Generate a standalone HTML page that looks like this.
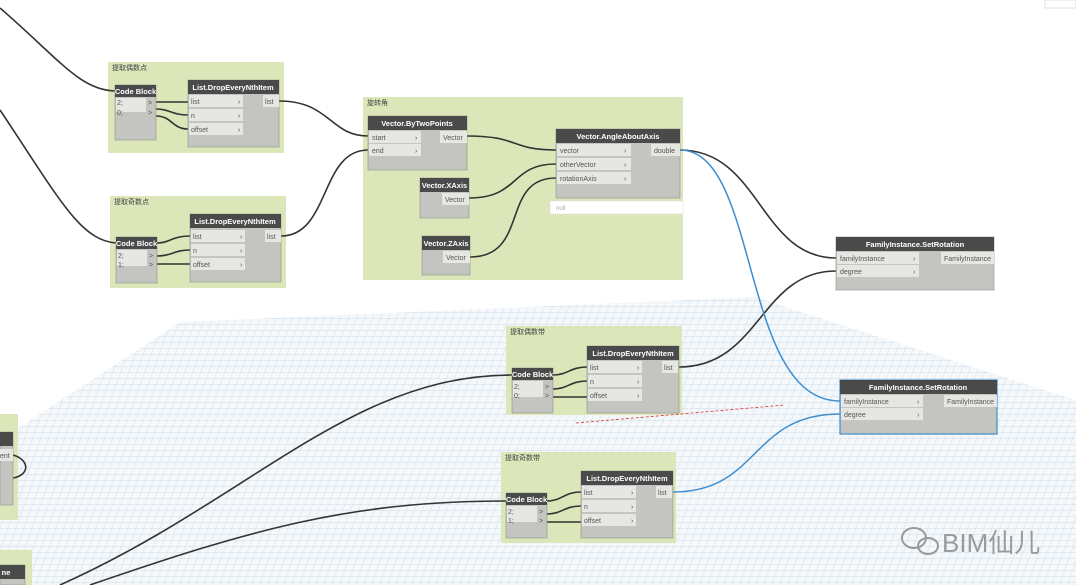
<!DOCTYPE html>
<html><head><meta charset="utf-8"><style>
html,body{margin:0;padding:0;background:#fff;}
svg{display:block;font-family:"Liberation Sans","Noto Sans CJK SC",sans-serif;}
.hd{fill:#4a4a4a}
.ht{fill:#fff;font-size:7.5px;font-weight:bold;text-anchor:middle}
.pt{fill:#555;font-size:7px}
.port{fill:#e6e6e3}
.body{fill:#c4c4c0;stroke:#8e8e8e;stroke-width:.6}
.grp{fill:#d9e6b5;opacity:.95}
.gt{fill:#444;font-size:7px}
.w{fill:none;stroke:#333;stroke-width:1.6}
.b{fill:none;stroke:#3c8ed0;stroke-width:1.5}
</style></head><body>
<svg width="1076" height="585" viewBox="0 0 1076 585" xmlns="http://www.w3.org/2000/svg">
<defs>
<pattern id="g" width="8" height="6" patternUnits="userSpaceOnUse" patternTransform="skewX(-20)">
<path d="M0 0H8M0 0V6" stroke="#bfd2e0" stroke-width=".7" fill="none"/>
</pattern>
<clipPath id="cp"><polygon points="0,440 180,322 755,297 1076,400 1076,585 0,585"/></clipPath>
</defs>
<polygon points="0,440 180,322 755,297 1076,400 1076,585 0,585" fill="#f5f8fb"/>
<rect x="0" y="290" width="1076" height="295" fill="url(#g)" clip-path="url(#cp)"/>
<rect x="1045" y="0" width="31" height="8" fill="#fff" stroke="#ccc" stroke-width=".6"/>

<rect class="grp" x="108" y="62" width="176" height="91"/><text class="gt" x="112" y="70">提取偶数点</text>
<rect class="grp" x="110" y="196" width="176" height="92"/><text class="gt" x="114" y="204">提取奇数点</text>
<rect class="grp" x="363" y="97" width="320" height="183"/><text class="gt" x="367" y="105">旋转角</text>
<rect class="grp" x="506" y="326" width="176" height="89"/><text class="gt" x="510" y="334">提取偶数带</text>
<rect class="grp" x="501" y="452" width="175" height="91"/><text class="gt" x="505" y="460">提取奇数带</text>
<rect class="grp" x="0" y="414" width="18" height="106"/>
<rect class="grp" x="0" y="550" width="32" height="35"/>

<path class="w" d="M0 8 C60 60 80 90 115 91"/>
<path class="w" d="M0 110 C60 200 80 240 116 243"/>
<path class="w" d="M156 102 H188 M156 109 C170 109 172 115 188 115 M156 116 C172 116 172 129 188 129"/>
<path class="w" d="M157 256 C172 256 174 250 190 250 M157 264 H190 M157 243 C170 243 172 236 190 236"/>
<path class="w" d="M279 101 C330 101 330 136 368 136"/>
<path class="w" d="M281 236 C330 236 320 150 368 150"/>
<path class="w" d="M467 136 C520 136 510 150 556 150"/>
<path class="w" d="M469 198 C520 198 510 164 556 164"/>
<path class="w" d="M470 257 C530 257 500 178 556 178"/>
<path class="w" d="M680 150 C760 150 760 258 836 258"/>
<path class="w" d="M679 367 C760 367 760 271 836 271"/>
<path class="b" d="M680 150 C760 150 740 401 840 401"/>
<path class="b" d="M673 492 C760 492 750 414 840 414"/>
<path class="w" d="M60 585 C250 500 350 375 512 375"/>
<path class="w" d="M90 585 C250 530 350 501 506 501"/>
<path class="w" d="M553 389 C568 389 570 381 587 381 M553 397 H587 M553 375 C568 375 570 367 587 367"/>
<path class="w" d="M547 514 C562 514 564 506 581 506 M547 522 H581 M547 501 C562 501 564 492 581 492"/>
<path class="w" d="M13 455 C30 460 30 475 13 478"/>
<path d="M576 423 L785 405" stroke="#d33" stroke-width=".8" stroke-dasharray="3,2"/>

<rect class="body" x="115" y="85" width="41" height="55"/><rect class="hd" x="115" y="85" width="41" height="12"/><text class="ht" x="135.5" y="94">Code Block</text>
<rect class="port" x="116" y="98" width="30" height="14"/><text class="pt" x="117" y="105" fill="#36c">2;</text><text class="pt" x="117" y="115" fill="#36c">0;</text><text class="pt" x="148" y="105">&gt;</text><text class="pt" x="148" y="115">&gt;</text>
<rect class="body" x="116" y="237" width="41" height="46"/><rect class="hd" x="116" y="237" width="41" height="12"/><text class="ht" x="136.5" y="246">Code Block</text>
<rect class="port" x="117" y="250" width="30" height="16"/><text class="pt" x="118" y="258" fill="#36c">2;</text><text class="pt" x="118" y="267" fill="#36c">1;</text><text class="pt" x="149" y="258">&gt;</text><text class="pt" x="149" y="267">&gt;</text>
<rect class="body" x="512" y="368" width="41" height="45"/><rect class="hd" x="512" y="368" width="41" height="12"/><text class="ht" x="532.5" y="377">Code Block</text>
<rect class="port" x="513" y="381" width="30" height="16"/><text class="pt" x="514" y="389" fill="#36c">2;</text><text class="pt" x="514" y="398" fill="#36c">0;</text><text class="pt" x="545" y="389">&gt;</text><text class="pt" x="545" y="398">&gt;</text>
<rect class="body" x="506" y="493" width="41" height="45"/><rect class="hd" x="506" y="493" width="41" height="12"/><text class="ht" x="526.5" y="502">Code Block</text>
<rect class="port" x="507" y="506" width="30" height="16"/><text class="pt" x="508" y="514" fill="#36c">2;</text><text class="pt" x="508" y="523" fill="#36c">1;</text><text class="pt" x="539" y="514">&gt;</text><text class="pt" x="539" y="523">&gt;</text>

<g>
<rect class="body" x="188" y="80" width="91" height="67"/><rect class="hd" x="188" y="80" width="91" height="14"/><text class="ht" x="233" y="90">List.DropEveryNthItem</text>
<rect class="port" x="189" y="95" width="54" height="12"/><rect class="port" x="189" y="109" width="54" height="12"/><rect class="port" x="189" y="123" width="54" height="12"/><rect class="port" x="263" y="95" width="16" height="12"/>
<text class="pt" x="191" y="104">list</text><text class="pt" x="191" y="118">n</text><text class="pt" x="191" y="132">offset</text><text class="pt" x="238" y="104">›</text><text class="pt" x="238" y="118">›</text><text class="pt" x="238" y="132">›</text><text class="pt" x="265" y="104">list</text>
</g>
<g transform="translate(2,134)">
<rect class="body" x="188" y="80" width="91" height="68"/><rect class="hd" x="188" y="80" width="91" height="14"/><text class="ht" x="233" y="90">List.DropEveryNthItem</text>
<rect class="port" x="189" y="96" width="54" height="12"/><rect class="port" x="189" y="110" width="54" height="12"/><rect class="port" x="189" y="124" width="54" height="12"/><rect class="port" x="263" y="96" width="16" height="12"/>
<text class="pt" x="191" y="105">list</text><text class="pt" x="191" y="119">n</text><text class="pt" x="191" y="133">offset</text><text class="pt" x="238" y="105">›</text><text class="pt" x="238" y="119">›</text><text class="pt" x="238" y="133">›</text><text class="pt" x="265" y="105">list</text>
</g>
<g transform="translate(399,266)">
<rect class="body" x="188" y="80" width="92" height="67"/><rect class="hd" x="188" y="80" width="92" height="14"/><text class="ht" x="234" y="90">List.DropEveryNthItem</text>
<rect class="port" x="189" y="95" width="54" height="12"/><rect class="port" x="189" y="109" width="54" height="12"/><rect class="port" x="189" y="123" width="54" height="12"/><rect class="port" x="263" y="95" width="16" height="12"/>
<text class="pt" x="191" y="104">list</text><text class="pt" x="191" y="118">n</text><text class="pt" x="191" y="132">offset</text><text class="pt" x="238" y="104">›</text><text class="pt" x="238" y="118">›</text><text class="pt" x="238" y="132">›</text><text class="pt" x="265" y="104">list</text>
</g>
<g transform="translate(393,391)">
<rect class="body" x="188" y="80" width="92" height="67"/><rect class="hd" x="188" y="80" width="92" height="14"/><text class="ht" x="234" y="90">List.DropEveryNthItem</text>
<rect class="port" x="189" y="95" width="54" height="12"/><rect class="port" x="189" y="109" width="54" height="12"/><rect class="port" x="189" y="123" width="54" height="12"/><rect class="port" x="263" y="95" width="16" height="12"/>
<text class="pt" x="191" y="104">list</text><text class="pt" x="191" y="118">n</text><text class="pt" x="191" y="132">offset</text><text class="pt" x="238" y="104">›</text><text class="pt" x="238" y="118">›</text><text class="pt" x="238" y="132">›</text><text class="pt" x="265" y="104">list</text>
</g>

<rect class="body" x="368" y="116" width="99" height="54"/><rect class="hd" x="368" y="116" width="99" height="14"/><text class="ht" x="417" y="126">Vector.ByTwoPoints</text>
<rect class="port" x="369" y="131" width="52" height="12"/><rect class="port" x="369" y="144" width="52" height="12"/><rect class="port" x="440" y="131" width="27" height="12"/>
<text class="pt" x="372" y="140">start</text><text class="pt" x="372" y="153">end</text><text class="pt" x="415" y="140">›</text><text class="pt" x="415" y="153">›</text><text class="pt" x="443" y="140">Vector</text>
<rect class="body" x="420" y="178" width="49" height="40"/><rect class="hd" x="420" y="178" width="49" height="14"/><text class="ht" x="444.5" y="188">Vector.XAxis</text>
<rect class="port" x="442" y="193" width="27" height="12"/><text class="pt" x="445" y="202">Vector</text>
<rect class="body" x="422" y="236" width="48" height="39"/><rect class="hd" x="422" y="236" width="48" height="14"/><text class="ht" x="446" y="246">Vector.ZAxis</text>
<rect class="port" x="443" y="251" width="27" height="12"/><text class="pt" x="446" y="260">Vector</text>
<rect class="body" x="556" y="129" width="124" height="69"/><rect class="hd" x="556" y="129" width="124" height="14"/><text class="ht" x="618" y="139">Vector.AngleAboutAxis</text>
<rect class="port" x="557" y="144" width="74" height="12"/><rect class="port" x="557" y="158" width="74" height="12"/><rect class="port" x="557" y="172" width="74" height="12"/><rect class="port" x="651" y="144" width="29" height="12"/>
<text class="pt" x="560" y="153">vector</text><text class="pt" x="560" y="167">otherVector</text><text class="pt" x="560" y="181">rotationAxis</text><text class="pt" x="624" y="153">›</text><text class="pt" x="624" y="167">›</text><text class="pt" x="624" y="181">›</text><text class="pt" x="654" y="153">double</text>
<rect x="550" y="201" width="133" height="13" fill="#fff" stroke="#ddd" stroke-width=".5"/><text x="556" y="210" fill="#aaa" font-size="6px">null</text>

<rect class="body" x="836" y="237" width="158" height="53"/><rect class="hd" x="836" y="237" width="158" height="14"/><text class="ht" x="915" y="247">FamilyInstance.SetRotation</text>
<rect class="port" x="837" y="252" width="82" height="12"/><rect class="port" x="837" y="265" width="82" height="12"/><rect class="port" x="941" y="252" width="53" height="12"/>
<text class="pt" x="840" y="261">familyInstance</text><text class="pt" x="840" y="274">degree</text><text class="pt" x="913" y="261">›</text><text class="pt" x="913" y="274">›</text><text class="pt" x="944" y="261">FamilyInstance</text>
<rect class="body" x="840" y="380" width="157" height="54" style="stroke:#3c8ed0;stroke-width:1.2"/><rect class="hd" x="840" y="380" width="157" height="14"/><text class="ht" x="918" y="390">FamilyInstance.SetRotation</text>
<rect class="port" x="841" y="395" width="82" height="12"/><rect class="port" x="841" y="408" width="82" height="12"/><rect class="port" x="944" y="395" width="53" height="12"/>
<text class="pt" x="844" y="404">familyInstance</text><text class="pt" x="844" y="417">degree</text><text class="pt" x="917" y="404">›</text><text class="pt" x="917" y="417">›</text><text class="pt" x="947" y="404">FamilyInstance</text>

<rect class="body" x="0" y="432" width="13" height="73"/><rect class="hd" x="0" y="432" width="13" height="14"/><rect class="port" x="0" y="449" width="13" height="12"/><text class="pt" x="0" y="458">ent</text>
<rect class="body" x="0" y="565" width="25" height="20"/><rect class="hd" x="0" y="565" width="25" height="14"/><text class="ht" x="6" y="575">ne</text>

<g fill="none" stroke="#9a9a9a" stroke-width="2">
<ellipse cx="914" cy="538" rx="12" ry="10"/><ellipse cx="928" cy="546" rx="10" ry="8"/>
</g>
<text x="942" y="552" fill="#9a9a9a" font-size="26px">BIM仙儿</text>
</svg>
</body></html>
